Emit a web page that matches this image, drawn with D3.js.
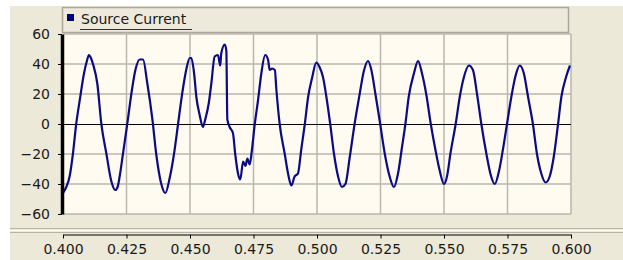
<!DOCTYPE html>
<html>
<head>
<meta charset="utf-8">
<script src="https://cdn.jsdelivr.net/npm/d3@7"></script>
<style>
  body { margin: 0; background: #fff; }
  svg text { font-family: "DejaVu Sans", sans-serif; font-size: 14px; fill: #1a1a1a; }
</style>
</head>
<body>
<div id="chart"></div>
<script>
//series label and tick values
var seriesName = "Source Current";
var xTicks = [0.400, 0.425, 0.450, 0.475, 0.500, 0.525, 0.550, 0.575, 0.600];
var yTicks = [-60, -40, -20, 0, 20, 40, 60];

//time (s) and current values
var times = [
  0.4000, 0.4013, 0.4026, 0.4039, 0.4052, 0.4066, 0.4083, 0.4094, 0.4102, 0.4110,
  0.4118, 0.4135, 0.4151, 0.4171, 0.4190, 0.4206, 0.4215, 0.4223, 0.4236, 0.4253,
  0.4269, 0.4285, 0.4302, 0.4315, 0.4332, 0.4352, 0.4367, 0.4387, 0.4403, 0.4420,
  0.4437, 0.4453, 0.4469, 0.4485, 0.4499, 0.4505, 0.4516, 0.4525, 0.4538, 0.4551,
  0.4560, 0.4574, 0.4584, 0.4597, 0.4610, 0.4619, 0.4623, 0.4637, 0.4643, 0.4647,
  0.4656, 0.4669, 0.4678, 0.4689, 0.4698, 0.4709, 0.4718, 0.4726, 0.4735, 0.4744,
  0.4755, 0.4768, 0.4781, 0.4796, 0.4807, 0.4814, 0.4823, 0.4834, 0.4840, 0.4853,
  0.4873, 0.4886, 0.4899, 0.4912, 0.4925, 0.4938, 0.4952, 0.4965, 0.4981, 0.4997,
  0.5010, 0.5024, 0.5037, 0.5052, 0.5067, 0.5083, 0.5098, 0.5112, 0.5129, 0.5148,
  0.5168, 0.5184, 0.5201, 0.5214, 0.5230, 0.5247, 0.5267, 0.5286, 0.5303, 0.5319,
  0.5335, 0.5348, 0.5361, 0.5382, 0.5398, 0.5413, 0.5430, 0.5448, 0.5466, 0.5483,
  0.5500, 0.5513, 0.5525, 0.5546, 0.5562, 0.5578, 0.5598, 0.5614, 0.5630, 0.5647,
  0.5667, 0.5684, 0.5700, 0.5717, 0.5732, 0.5748, 0.5765, 0.5783, 0.5798, 0.5814,
  0.5831, 0.5850, 0.5866, 0.5883, 0.5900, 0.5916, 0.5932, 0.5949, 0.5962, 0.5980,
  0.5996
];
var current = [
  -46, -42, -35, -20, 0, 16, 34, 42, 46, 44,
  40, 27, 0, -20, -38, -44, -42, -35, -20, 0,
  20, 36, 43, 43, 27, 3, -20, -40, -46, -36,
  -20, 0, 20, 36, 44, 44, 34, 18, 6, -2,
  3, 14, 27, 45, 46, 39, 47, 53, 49, 3,
  -2, -6, -20, -33, -37, -25, -28, -23, -27, -17,
  0, 16, 34, 46, 43, 36, 37, 36, 23, 0,
  -20, -33, -41, -35, -33, -17, 0, 18, 31, 41,
  38, 31, 18, 0, -20, -35, -42, -40, -22, 0,
  20, 35, 42, 36, 20, 2, -20, -35, -42, -33,
  -15, 0, 18, 34, 42, 34, 20, 0, -17, -31,
  -40, -34, -20, 0, 18, 31, 39, 36, 20, 0,
  -20, -34, -40, -31, -17, 0, 18, 33, 39, 34,
  18, 0, -20, -33, -39, -35, -22, 0, 18, 31,
  39
];

var width = 623, height = 260;
var plot = {left: 63, right: 571, top: 34, bottom: 214};

var svg = d3.select("#chart").append("svg")
    .attr("width", width)
    .attr("height", height);

//beige window panel
svg.append("rect")
    .attr("x", 10).attr("y", 6)
    .attr("width", width - 10).attr("height", height - 6)
    .attr("fill", "#ECE9D8");

//legend box
svg.append("rect")
    .attr("x", 62.5).attr("y", 7.5)
    .attr("width", 506).attr("height", 25)
    .attr("fill", "#EDEADB")
    .attr("stroke", "#ABA899")
    .attr("stroke-width", 1.5);
svg.append("rect")
    .attr("x", 67).attr("y", 14)
    .attr("width", 7).attr("height", 7)
    .attr("fill", "#000080");
svg.append("text")
    .attr("x", 81).attr("y", 24)
    .text(seriesName);
svg.append("line")
    .attr("x1", 80).attr("x2", 192)
    .attr("y1", 29.5).attr("y2", 29.5)
    .attr("stroke", "#333")
    .attr("stroke-width", 1);

//scales
var x = d3.scaleLinear().domain([0.4, 0.6]).range([plot.left, plot.right]);
var y = d3.scaleLinear().domain([-60, 60]).range([plot.bottom, plot.top]);

//plot background
svg.append("rect")
    .attr("x", plot.left).attr("y", plot.top)
    .attr("width", plot.right - plot.left).attr("height", plot.bottom - plot.top)
    .attr("fill", "#FFFBF0");

//grid
var grid = svg.append("g").attr("stroke", "#B9B6AE").attr("stroke-width", 1.5);
grid.selectAll("line.v")
    .data(xTicks.slice(1))
    .enter().append("line")
    .attr("x1", function(d){ return x(d); })
    .attr("x2", function(d){ return x(d); })
    .attr("y1", plot.top).attr("y2", plot.bottom);
grid.selectAll("line.h")
    .data(yTicks.filter(function(d){ return d !== 0; }))
    .enter().append("line")
    .attr("x1", plot.left).attr("x2", plot.right)
    .attr("y1", function(d){ return y(d); })
    .attr("y2", function(d){ return y(d); });

//zero line
svg.append("line")
    .attr("x1", plot.left).attr("x2", plot.right)
    .attr("y1", y(0) + 0.5).attr("y2", y(0) + 0.5)
    .attr("stroke", "#000").attr("stroke-width", 1);

//trace
var points = times.map(function(t, i){ return [t, current[i]]; });
var line = d3.line()
    .curve(d3.curveMonotoneX)
    .x(function(d){ return x(d[0]); })
    .y(function(d){ return y(d[1]); });
svg.append("path")
    .datum(points)
    .attr("d", line)
    .attr("fill", "none")
    .attr("stroke", "#0A0A86")
    .attr("stroke-width", 2.2)
    .attr("stroke-linejoin", "round");

//y axis
var yAxis = svg.append("g")
    .attr("transform", "translate(" + (plot.left - 1) + ",0)")
    .call(d3.axisLeft(y).tickValues(yTicks).tickSize(4).tickSizeOuter(0).tickPadding(8));
yAxis.select(".domain").attr("stroke", "#000").attr("stroke-width", 3.5);
yAxis.selectAll(".tick line").attr("stroke", "#000");
yAxis.selectAll("text").attr("font-family", null).attr("font-size", null).attr("fill", "#1a1a1a");

//separator lines above the x axis
svg.append("line").attr("x1", 10).attr("x2", width).attr("y1", 228.5).attr("y2", 228.5)
    .attr("stroke", "#B8B5A8");
svg.append("line").attr("x1", 10).attr("x2", width).attr("y1", 230.5).attr("y2", 230.5)
    .attr("stroke", "#FFFFFF");
svg.append("line").attr("x1", 10).attr("x2", width).attr("y1", 232.5).attr("y2", 232.5)
    .attr("stroke", "#B8B5A8");

//x axis
var xAxis = svg.append("g")
    .attr("transform", "translate(0,234.5)")
    .call(d3.axisBottom(x).tickValues(xTicks).tickFormat(d3.format(".3f"))
        .tickSize(4).tickSizeOuter(0).tickPadding(6));
xAxis.select(".domain").attr("stroke", "#000");
xAxis.selectAll(".tick line").attr("stroke", "#000");
xAxis.selectAll("text").attr("font-family", null).attr("font-size", null).attr("fill", "#1a1a1a");
</script>
</body>
</html>
